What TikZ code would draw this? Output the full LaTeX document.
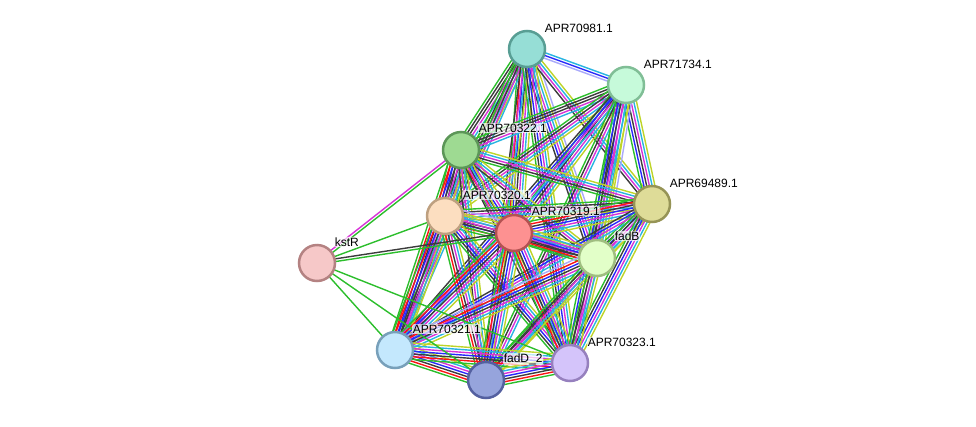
\documentclass[tikz,border=0pt]{standalone}
\usepackage{fontspec}
\setsansfont{Liberation Sans}
\usetikzlibrary{calc,backgrounds}
% evidence channels
\definecolor{eg}{RGB}{44,190,44}
\definecolor{er}{RGB}{250,20,20}
\definecolor{eb}{RGB}{40,40,250}
\definecolor{ek}{RGB}{60,60,60}
\definecolor{em}{RGB}{215,50,215}
\definecolor{ec}{RGB}{40,180,225}
\definecolor{ey}{RGB}{190,212,40}
\definecolor{el}{RGB}{170,170,250}
% proteins
\definecolor{Fill981}{RGB}{150,222,214}\definecolor{Edge981}{RGB}{88,158,148}
\definecolor{Fill734}{RGB}{198,250,218}\definecolor{Edge734}{RGB}{128,190,150}
\definecolor{Fill322}{RGB}{158,218,146}\definecolor{Edge322}{RGB}{92,150,88}
\definecolor{Fill489}{RGB}{222,220,152}\definecolor{Edge489}{RGB}{150,148,86}
\definecolor{Fill320}{RGB}{252,222,192}\definecolor{Edge320}{RGB}{190,160,128}
\definecolor{Fill319}{RGB}{253,145,145}\definecolor{Edge319}{RGB}{180,82,82}
\definecolor{FillfadB}{RGB}{226,255,200}\definecolor{EdgefadB}{RGB}{160,190,128}
\definecolor{FillkstR}{RGB}{246,200,200}\definecolor{EdgekstR}{RGB}{180,130,130}
\definecolor{Fill321}{RGB}{196,232,253}\definecolor{Edge321}{RGB}{120,160,186}
\definecolor{FillfadD}{RGB}{150,164,220}\definecolor{EdgefadD}{RGB}{84,96,160}
\definecolor{Fill323}{RGB}{212,196,250}\definecolor{Edge323}{RGB}{150,128,190}
\tikzset{
  protein/.style={circle,line width=2.5pt,minimum size=36pt,inner sep=0pt,
    fill=Fill#1,draw=Edge#1},
  lbl/.style={anchor=west,inner sep=0.6pt,rounded corners=2pt,
    fill=white,fill opacity=0.7,text opacity=1,
    font=\sffamily\fontsize{12}{14}\selectfont},
  evidence/.style={line width=1.4pt}
}
% one bundle of parallel evidence lines between two proteins
\newcommand{\linkset}[4]{%
  \foreach \col [count=\i] in {#4}{%
    \pgfmathsetmacro{\off}{(\i-(#3+1)/2)*2.7}
    \draw[\col,evidence] ($(#1)!\off pt!90:(#2)$) -- ($(#2)!\off pt!-90:(#1)$);
  }}

\begin{document}
\begin{tikzpicture}[x=1pt,y=-1pt]
  \useasboundingbox (0,0) rectangle (976,426);
  \node[protein=981] (n981) at (527,49) {};
  \node[protein=734] (n734) at (626,85) {};
  \node[protein=322] (n322) at (461,150) {};
  \node[protein=489] (n489) at (652,204) {};
  \node[protein=320] (n320) at (445,216) {};
  \node[protein=319] (n319) at (514,233) {};
  \node[protein=fadB] (nfadB) at (597,258) {};
  \node[protein=kstR] (nkstR) at (317,263) {};
  \node[protein=321] (n321) at (395,350) {};
  \node[protein=fadD] (nfadD) at (486,380) {};
  \node[protein=323] (n323) at (570,363) {};
  % names
  \node[lbl] (t981) at ($(n981)+(17,-21)$) {APR70981.1};
  \node[lbl] (t734) at ($(n734)+(17,-21)$) {APR71734.1};
  \node[lbl] (t322) at ($(n322)+(17,-22)$) {APR70322.1};
  \node[lbl] (t489) at ($(n489)+(17,-21)$) {APR69489.1};
  \node[lbl] (t320) at ($(n320)+(17,-21)$) {APR70320.1};
  \node[lbl] (t319) at ($(n319)+(17,-22)$) {APR70319.1};
  \node[lbl] (tfadB) at ($(nfadB)+(17,-22)$) {fadB};
  \node[lbl] (tkstR) at ($(nkstR)+(17,-21)$) {kstR};
  \node[lbl] (t321) at ($(n321)+(17,-21)$) {APR70321.1};
  \node[lbl] (tfadD) at ($(nfadD)+(17,-21)$) {fadD\_2};
  \node[lbl] (t323) at ($(n323)+(17,-21)$) {APR70323.1};
  \begin{scope}[on background layer]
    \linkset{n981}{n734}{3}{el,eb,ec}
    \linkset{n981}{n322}{6}{eg,ek,ek,em,ec,ey}
    \linkset{n981}{n320}{5}{eg,ek,em,ec,ey}
    \linkset{n981}{n319}{7}{eg,er,eb,ek,em,ec,ey}
    \linkset{n981}{nfadB}{6}{ek,eb,em,ec,ey,el}
    \linkset{n981}{n489}{4}{ek,em,ec,ey}
    \linkset{n981}{n321}{4}{eg,ek,em,ec}
    \linkset{n981}{nfadD}{4}{ek,em,ec,ey}
    \linkset{n981}{n323}{6}{eg,ek,eb,em,ec,ey}
    \linkset{n734}{n322}{5}{eg,ek,ek,em,ec}
    \linkset{n734}{n320}{5}{eg,ek,em,ec,ey}
    \linkset{n734}{n319}{6}{eg,eb,ek,em,ec,ey}
    \linkset{n734}{n489}{6}{eg,eb,ek,em,ec,ey}
    \linkset{n734}{nfadB}{7}{eg,ek,eb,em,ec,ey,el}
    \linkset{n734}{n321}{4}{ek,eb,em,ec}
    \linkset{n734}{nfadD}{4}{eg,ek,em,ec}
    \linkset{n734}{n323}{6}{eg,eb,ek,em,ec,ey}
    \linkset{n322}{n320}{8}{eg,er,eb,ek,ek,em,ec,ey}
    \linkset{n322}{n319}{7}{eg,er,ek,eb,em,ec,ey}
    \linkset{n322}{n489}{5}{eg,ek,em,ec,ey}
    \linkset{n322}{nfadB}{4}{ek,em,ec,ey}
    \linkset{n322}{n321}{7}{eg,er,eb,ek,em,ec,ey}
    \linkset{n322}{nfadD}{4}{ek,em,ec,ey}
    \linkset{n322}{n323}{4}{ek,em,ec,ey}
    \linkset{n489}{n320}{5}{eg,ek,em,ec,ey}
    \linkset{n489}{n319}{7}{eg,er,ek,eb,em,ec,ey}
    \linkset{n489}{nfadB}{6}{eg,ek,eb,em,ec,ey}
    \linkset{n489}{n321}{4}{ek,eb,em,ec}
    \linkset{n489}{nfadD}{5}{eg,ek,em,ec,ey}
    \linkset{n489}{n323}{6}{eg,ek,eb,em,ec,ey}
    \linkset{n320}{n319}{8}{eg,er,eb,ek,em,ec,ey,el}
    \linkset{n320}{nfadB}{5}{eg,ek,em,ec,ey}
    \linkset{n320}{n321}{7}{eg,er,eb,ek,em,ec,ey}
    \linkset{n320}{nfadD}{6}{eg,er,ek,em,ec,ey}
    \linkset{n320}{n323}{6}{eg,ek,eb,em,ec,ey}
    \linkset{n319}{nfadB}{7}{eg,er,ek,eb,em,ec,ey}
    \linkset{n319}{n321}{7}{eg,er,eb,ek,em,ec,ey}
    \linkset{n319}{nfadD}{7}{eg,er,ek,eb,em,ec,ey}
    \linkset{n319}{n323}{7}{eg,er,ek,eb,em,ec,ey}
    \linkset{nfadB}{n321}{7}{el,er,eb,ek,em,ec,ey}
    \linkset{nfadB}{nfadD}{5}{eg,ek,em,ec,ey}
    \linkset{nfadB}{n323}{5}{eg,ek,em,ec,ey}
    \linkset{n321}{nfadD}{7}{eg,er,ek,eb,em,ec,ey}
    \linkset{n321}{n323}{7}{eg,er,ek,eb,em,ec,ey}
    \linkset{nfadD}{n323}{7}{eg,er,ek,eb,em,ec,ey}
    % kstR
    \linkset{nkstR}{n322}{2}{eg,em}
    \linkset{nkstR}{n320}{1}{eg}
    \linkset{nkstR}{n319}{2}{eg,ek}
    \linkset{nkstR}{n321}{1}{eg}
    \linkset{nkstR}{nfadD}{1}{eg}
    \linkset{nkstR}{n323}{1}{eg}
  \end{scope}
\end{tikzpicture}
\end{document}
